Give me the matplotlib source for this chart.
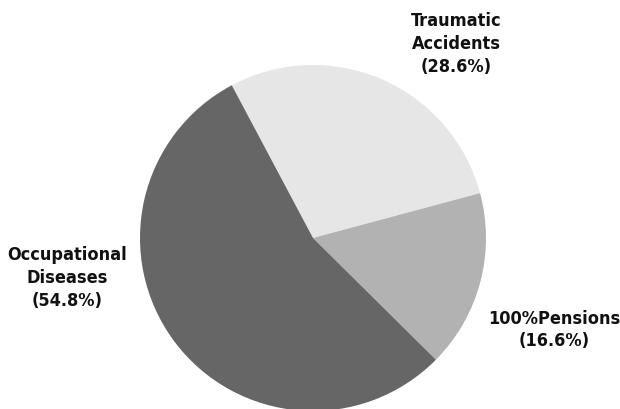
import matplotlib
matplotlib.use("Agg")
import matplotlib.pyplot as plt

# chart data
labels = ["Traumatic\nAccidents", "100%Pensions", "Occupational\nDiseases"]
shares = [28.6, 16.6, 54.8]
colors = ["#e6e6e6", "#b2b2b2", "#666666"]

plt.rcParams['font.family'] = ['DejaVu Sans']

W, H = 620, 409
fig = plt.figure(figsize=(W / 100, H / 100), dpi=100)

# pie axes placed in pixel terms (centre ~313,238, radius ~173)
cx, cy, r = 313, 238, 173
ax = fig.add_axes([(cx - r) / W, (H - cy - r) / H, 2 * r / W, 2 * r / H])
ax.pie(shares, colors=colors, startangle=118, counterclock=False,
       radius=1, wedgeprops=dict(linewidth=0))
ax.set_xlim(-1, 1)
ax.set_ylim(-1, 1)
ax.set_aspect('equal')
ax.axis('off')

# label positions (pixel centres)
label_pos = [(456, 44), (554, 330), (67, 278)]
for lab, val, (x, y) in zip(labels, shares, label_pos):
    fig.text(x / W, 1 - y / H, f"{lab}\n({val}%)", ha='center', va='center',
             fontsize=13, fontweight='bold', fontstretch='condensed',
             linespacing=1.35, color='#111111')

fig.savefig("out.png", dpi=100)
